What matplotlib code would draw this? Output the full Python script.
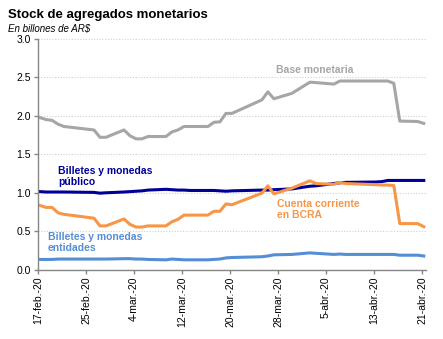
import matplotlib.pyplot as plt

# dias contados desde el 17-feb-20 (solo dias habiles)
dias = [0, 1, 2, 3, 4, 9, 10, 11, 14, 15, 16, 17, 18, 21, 22, 23, 24, 25, 28, 29,
        30, 31, 32, 37, 38, 39, 42, 45, 46, 49, 50, 51, 56, 57, 58, 59, 60, 63, 64]

base = [1.975, 1.95, 1.94, 1.89, 1.86, 1.815, 1.72, 1.72, 1.815, 1.74, 1.70, 1.70,
        1.73, 1.73, 1.79, 1.815, 1.86, 1.86, 1.86, 1.915, 1.92, 2.03, 2.03, 2.205,
        2.31, 2.22, 2.29, 2.435, 2.43, 2.41, 2.45, 2.45, 2.45, 2.45, 2.45, 2.42,
        1.93, 1.925, 1.90]
publico = [1.015, 1.01, 1.01, 1.01, 1.01, 1.005, 0.995, 1.0, 1.01, 1.015, 1.02,
           1.025, 1.035, 1.045, 1.04, 1.035, 1.035, 1.03, 1.03, 1.03, 1.025, 1.02,
           1.025, 1.035, 1.035, 1.04, 1.05, 1.085, 1.09, 1.12, 1.13, 1.135, 1.14,
           1.145, 1.16, 1.16, 1.16, 1.16, 1.16]
cuenta = [0.835, 0.81, 0.81, 0.74, 0.72, 0.67, 0.57, 0.57, 0.66, 0.59, 0.555, 0.555,
          0.57, 0.57, 0.625, 0.655, 0.71, 0.71, 0.71, 0.76, 0.76, 0.855, 0.845,
          0.995, 1.09, 0.985, 1.06, 1.155, 1.12, 1.11, 1.135, 1.12, 1.105, 1.10,
          1.10, 1.095, 0.60, 0.60, 0.56]
entidades = [0.135, 0.135, 0.135, 0.14, 0.14, 0.14, 0.14, 0.14, 0.145, 0.145, 0.14,
             0.14, 0.135, 0.13, 0.14, 0.135, 0.13, 0.13, 0.13, 0.135, 0.14, 0.155,
             0.16, 0.17, 0.18, 0.195, 0.2, 0.22, 0.215, 0.2, 0.205, 0.2, 0.2, 0.2,
             0.2, 0.2, 0.19, 0.19, 0.18]

fechas = ['17-feb.-20', '25-feb.-20', '4-mar.-20', '12-mar.-20', '20-mar.-20',
          '28-mar.-20', '5-abr.-20', '13-abr.-20', '21-abr.-20']

gris = '#a6a6a6'
azul = '#000099'
naranja = '#f79646'
celeste = '#558ed5'

plt.rcParams['font.family'] = ['Liberation Sans', 'DejaVu Sans']

fig = plt.figure(figsize=(4.43, 3.39), dpi=100)
ax = fig.add_axes([0.085, 0.204, 0.877, 0.682])

lw = 2.2
ax.plot(dias, base, color=gris, lw=lw, solid_joinstyle='round')
ax.plot(dias, publico, color=azul, lw=lw, solid_joinstyle='round')
ax.plot(dias, cuenta, color=naranja, lw=lw, solid_joinstyle='round')
ax.plot(dias, entidades, color=celeste, lw=lw, solid_joinstyle='round')

ax.set_ylim(0, 3)
ax.set_xlim(-0.4, 64.4)
ax.set_yticks([0, 0.5, 1.0, 1.5, 2.0, 2.5, 3.0])
ax.set_yticklabels(['0.0', '0.5', '1.0', '1.5', '2.0', '2.5', '3.0'], fontsize=7.5)
ax.set_xticks([i * 8 - 0.3 for i in range(len(fechas))])
ax.set_xticklabels(fechas, rotation=90, fontsize=7.5)

ax.grid(axis='y', color='#d0d0d0', linestyle=(0, (1, 1.5)), lw=0.8)
ax.set_axisbelow(True)
for s in ['top', 'right']:
    ax.spines[s].set_visible(False)
for s in ['left', 'bottom']:
    ax.spines[s].set_color('#868686')
    ax.spines[s].set_linewidth(1)
ax.tick_params(axis='both', color='#868686', length=3, width=1, pad=2)

fig.text(0.018, 0.955, 'Stock de agregados monetarios', fontsize=9.5,
         fontweight='bold', va='center')
fig.text(0.018, 0.915, 'En billones de AR$', fontsize=7, style='italic',
         va='center')

ax.text(39.4, 2.59, 'Base monetaria', color=gris, fontsize=7.5, fontweight='bold',
        va='center')
ax.text(3.0, 1.21, 'Billetes y monedas\npúblico', color=azul, fontsize=7.5,
        fontweight='bold', va='center', linespacing=1.1)
ax.text(39.6, 0.78, 'Cuenta corriente\nen BCRA', color=naranja, fontsize=7.5,
        fontweight='bold', va='center', linespacing=1.1)
ax.text(1.3, 0.35, 'Billetes y monedas\nentidades', color=celeste, fontsize=7.5,
        fontweight='bold', va='center', linespacing=1.1)

fig.savefig('out.png', dpi=100)
